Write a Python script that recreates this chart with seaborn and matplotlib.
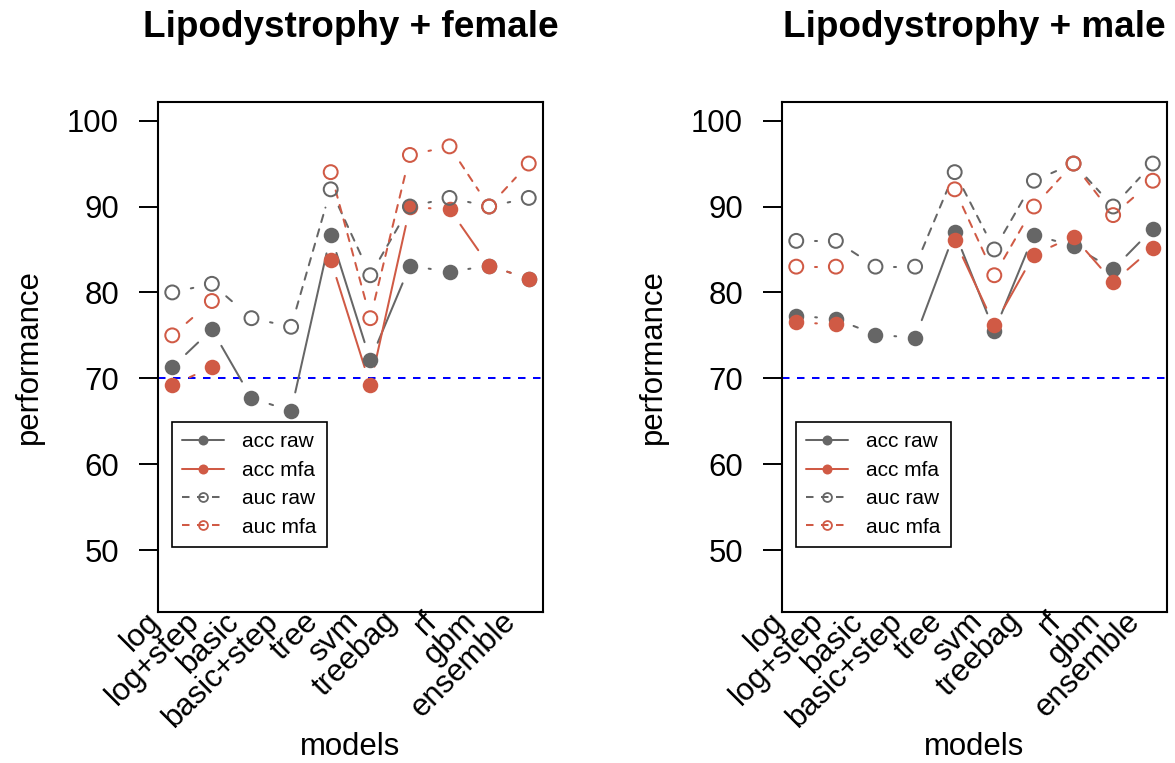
import numpy as np
import pandas as pd
import matplotlib
matplotlib.use("Agg")
import matplotlib.pyplot as plt
import matplotlib.transforms as mtransforms
from matplotlib.lines import Line2D
import seaborn as sns

# ---- data -------------------------------------------------------------
models = ["log", "log+step", "basic", "basic+step", "tree",
          "svm", "treebag", "rf", "gbm", "ensemble"]
nan = np.nan

female_acc_raw = [71.3, 75.7, 67.7, 66.2, 86.7, 72.1, 83.1, 82.4, 83.1, 81.6]
female_acc_mfa = [69.2, 71.3, nan, nan, 83.8, 69.2, 89.9, 89.7, 83.1, 81.6]
female_auc_raw = [80.0, 81.0, 77.0, 76.0, 92.0, 82.0, 90.0, 91.0, 90.0, 91.0]
female_auc_mfa = [75.0, 79.0, nan, nan, 94.0, 77.0, 96.0, 97.0, 90.0, 95.0]

male_acc_raw = [77.3, 76.9, 75.1, 74.7, 87.0, 75.5, 86.7, 85.4, 82.7, 87.4]
male_acc_mfa = [76.5, 76.3, nan, nan, 86.1, 76.2, 84.4, 86.5, 81.2, 85.2]
male_auc_raw = [86.0, 86.0, 83.0, 83.0, 94.0, 85.0, 93.0, 95.0, 90.0, 95.0]
male_auc_mfa = [83.0, 83.0, nan, nan, 92.0, 82.0, 90.0, 95.0, 89.0, 93.0]

series_names = ["acc raw", "acc mfa", "auc raw", "auc mfa"]
panel_titles = ["Lipodystrophy + female", "Lipodystrophy + male"]
threshold = 70
y_ticks = [50, 60, 70, 80, 90, 100]

# ---- style ------------------------------------------------------------
sns.set_style("white")
plt.rcParams["font.family"] = ["Liberation Sans", "DejaVu Sans"]
plt.rcParams["lines.scale_dashes"] = False
for key in ["text.color", "axes.labelcolor", "xtick.color", "ytick.color"]:
    plt.rcParams[key] = "black"

GREY = "#666666"
RED = "#D05A45"
LW = 1.45          # line width in points
GAP = 19.0         # pixel gap left around each point on the connecting lines
DASH = (0, (5.4, 5.4))

styles = {
    "acc raw": dict(color=GREY, filled=True, dashed=False),
    "acc mfa": dict(color=RED, filled=True, dashed=False),
    "auc raw": dict(color=GREY, filled=False, dashed=True),
    "auc mfa": dict(color=RED, filled=False, dashed=True),
}

fig = plt.figure(figsize=(11.75, 7.63), dpi=100)
W, H = 1175.0, 763.0
ax_top, ax_bot = 101.7, 612.0
ax_w = 385.0
lefts = [158.0, 782.0]


def long_table(acc_raw, acc_mfa, auc_raw, auc_mfa):
    frames = []
    for name, vals in zip(series_names, [acc_raw, acc_mfa, auc_raw, auc_mfa]):
        frames.append(pd.DataFrame({
            "model": models,
            "pos": np.arange(1, len(models) + 1),
            "value": vals,
            "series": name,
        }))
    return pd.concat(frames, ignore_index=True)


def gapped_lines(ax, xs, ys, color, dashed):
    """Connect consecutive points, leaving a fixed gap around each point."""
    xs = np.asarray(xs, float)
    ys = np.asarray(ys, float)
    pts = ax.transData.transform(np.column_stack([xs, ys]))
    inv = ax.transData.inverted()
    for i in range(len(xs) - 1):
        if np.isnan(ys[i]) or np.isnan(ys[i + 1]):
            continue
        p0, p1 = pts[i], pts[i + 1]
        d = p1 - p0
        L = np.hypot(*d)
        if L <= 2 * GAP:
            continue
        u = d / L
        a, b = inv.transform(np.vstack([p0 + u * GAP, p1 - u * GAP]))
        ax.plot([a[0], b[0]], [a[1], b[1]], color=color, lw=LW,
                linestyle=DASH if dashed else "-",
                solid_capstyle="round", dash_capstyle="round", zorder=2)


panels = [
    long_table(female_acc_raw, female_acc_mfa, female_auc_raw, female_auc_mfa),
    long_table(male_acc_raw, male_acc_mfa, male_auc_raw, male_auc_mfa),
]

for left, title, df in zip(lefts, panel_titles, panels):
    ax = fig.add_axes([left / W, (H - ax_bot) / H, ax_w / W, (ax_bot - ax_top) / H])
    ax.set_xlim(0.64, 10.36)
    ax.set_ylim(42.8, 102.2)

    ax.axhline(threshold, color="blue", lw=LW, linestyle=DASH,
               dash_capstyle="butt", zorder=1)

    for name in series_names:
        st = styles[name]
        sub = df[df["series"] == name]
        gapped_lines(ax, sub["pos"], sub["value"], st["color"], st["dashed"])
        sub = sub.dropna()
        if st["filled"]:
            sns.scatterplot(data=sub, x="pos", y="value", ax=ax, marker="o",
                            s=125, color=st["color"], linewidth=0, zorder=3)
        else:
            sns.scatterplot(data=sub, x="pos", y="value", ax=ax, marker="o",
                            s=100, color=st["color"], facecolor="none",
                            edgecolor=st["color"], linewidth=1.45, zorder=3)

    # frame and axes
    for sp in ax.spines.values():
        sp.set_visible(True)
        sp.set_color("black")
        sp.set_linewidth(1.5)
    ax.set_yticks(y_ticks)
    ax.set_yticklabels([str(v) for v in y_ticks], fontsize=22.4)
    ax.tick_params(axis="y", direction="out", length=14, width=1.4,
                   pad=14, left=True, colors="black")
    ax.set_xticks(np.arange(1, len(models) + 1))
    ax.set_xticklabels([])
    ax.tick_params(axis="x", length=0)

    # rotated model names under the frame
    off = mtransforms.ScaledTranslation(-17 / 100, -5 / 100, fig.dpi_scale_trans)
    trans = mtransforms.blended_transform_factory(ax.transData, ax.transAxes) + off
    for i, m in enumerate(models):
        ax.text(i + 1, 0, m, transform=trans, rotation=45,
                rotation_mode="anchor", ha="right", va="center",
                fontsize=22.4, clip_on=False)

    ax.set_xlabel("models", fontsize=22.4)
    ax.set_ylabel("performance", fontsize=22.4)
    ax.xaxis.set_label_coords(0.5, (ax_bot - 732) / (ax_bot - ax_top))
    ax.yaxis.set_label_coords((44 - 158) / ax_w, 0.5)
    ax.set_title(title, fontsize=26.6, fontweight="bold",
                 y=(ax_bot - 37) / (ax_bot - ax_top), pad=0)

    handles = []
    for name in series_names:
        st = styles[name]
        handles.append(Line2D([0], [0], color=st["color"], lw=LW,
                              linestyle=DASH if st["dashed"] else "-",
                              marker="o", markersize=7.2 if st["filled"] else 6.4,
                              markerfacecolor=st["color"] if st["filled"] else "none",
                              markeredgecolor=st["color"],
                              markeredgewidth=0 if st["filled"] else 1.3))
    leg = ax.legend(handles, series_names, loc="upper left",
                    bbox_to_anchor=(14 / ax_w, (ax_bot - 422) / (ax_bot - ax_top)),
                    borderaxespad=0, fontsize=15, frameon=True, fancybox=False,
                    framealpha=1, edgecolor="black", borderpad=0.5,
                    handlelength=2.0, handletextpad=0.85, labelspacing=0.45)
    leg.get_frame().set_linewidth(1.2)

fig.savefig("out.png", dpi=100)
